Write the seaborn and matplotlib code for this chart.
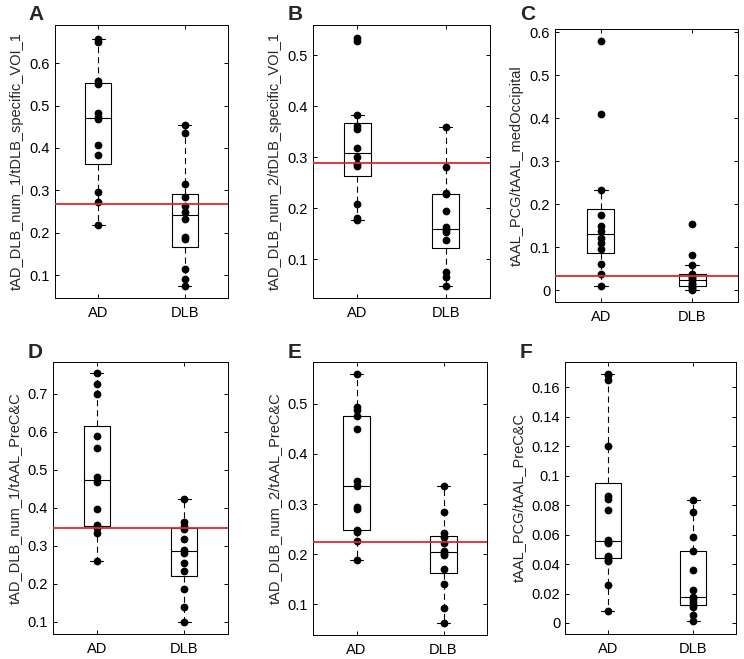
import matplotlib
matplotlib.use("Agg")
import matplotlib.pyplot as plt
from matplotlib.ticker import FuncFormatter, MultipleLocator
import pandas as pd
import seaborn as sns

groups = ["AD", "DLB"]

# values (one dot per subject)
a_ad = [0.219, 0.273, 0.296, 0.384, 0.408, 0.469, 0.472, 0.482, 0.551, 0.558, 0.651, 0.657]
a_dlb = [0.075, 0.091, 0.114, 0.185, 0.191, 0.232, 0.250, 0.262, 0.284, 0.315, 0.435, 0.453]
a_cut = 0.267

b_ad = [0.177, 0.180, 0.208, 0.282, 0.287, 0.300, 0.318, 0.355, 0.362, 0.383, 0.527, 0.533]
b_dlb = [0.048, 0.066, 0.074, 0.137, 0.153, 0.157, 0.163, 0.195, 0.227, 0.230, 0.281, 0.360]
b_cut = 0.288

c_ad = [0.011, 0.039, 0.062, 0.095, 0.110, 0.122, 0.138, 0.150, 0.175, 0.234, 0.410, 0.580]
c_dlb = [0.002, 0.005, 0.008, 0.010, 0.014, 0.018, 0.024, 0.028, 0.032, 0.037, 0.060, 0.083, 0.155]
c_cut = 0.034

d_ad = [0.259, 0.335, 0.348, 0.355, 0.397, 0.468, 0.480, 0.557, 0.588, 0.700, 0.726, 0.754]
d_dlb = [0.099, 0.138, 0.187, 0.233, 0.255, 0.281, 0.290, 0.318, 0.344, 0.351, 0.362, 0.424]
d_cut = 0.348

e_ad = [0.189, 0.227, 0.244, 0.248, 0.290, 0.295, 0.336, 0.345, 0.449, 0.475, 0.488, 0.493, 0.560]
e_dlb = [0.062, 0.092, 0.141, 0.171, 0.198, 0.203, 0.206, 0.222, 0.235, 0.242, 0.284, 0.336]
e_cut = 0.225

f_ad = [0.0084, 0.026, 0.042, 0.043, 0.0445, 0.0455, 0.0545, 0.055, 0.056, 0.077, 0.084, 0.0865,
        0.120, 0.165, 0.1685, 0.169]
f_dlb = [0.0016, 0.0052, 0.0105, 0.012, 0.0145, 0.016, 0.0174, 0.0222, 0.0362, 0.049, 0.0584,
         0.0751, 0.0837]
f_cut = None

letters = ["A", "B", "C", "D", "E", "F"]
ylabels = ["tAD_DLB_num_1/tDLB_specific_VOI_1", "tAD_DLB_num_2/tDLB_specific_VOI_1",
           "tAAL_PCG/tAAL_medOccipital", "tAD_DLB_num_1/tAAL_PreC&C",
           "tAD_DLB_num_2/tAAL_PreC&C", "tAAL_PCG/tAAL_PreC&C"]
ylims = [(0.046, 0.69), (0.024, 0.559), (-0.027, 0.607),
         (0.068, 0.784), (0.039, 0.583), (-0.0075, 0.1772)]
ysteps = [0.1, 0.1, 0.1, 0.1, 0.1, 0.02]

panels = [(a_ad, a_dlb, a_cut), (b_ad, b_dlb, b_cut), (c_ad, c_dlb, c_cut),
          (d_ad, d_dlb, d_cut), (e_ad, e_dlb, e_cut), (f_ad, f_dlb, f_cut)]

# axes boxes in pixels: left, right, top, bottom
W, H = 744, 659
boxes_px = [(55, 228, 25, 298), (313, 490, 25, 298), (555, 738, 29, 302),
            (53, 228, 362, 634), (313, 487, 362, 635), (565, 736, 362, 634)]
letter_px = [(28, 20), (288, 20), (520, 20), (28, 358), (288, 358), (520, 358)]

sns.set_theme(style="ticks")
plt.rcParams["font.family"] = ["Liberation Sans", "DejaVu Sans"]
plt.rcParams["axes.linewidth"] = 0.7
plt.rcParams["axes.edgecolor"] = "black"

fig = plt.figure(figsize=(W / 100, H / 100), dpi=100)

for i, (ad, dlb, cut) in enumerate(panels):
    l, r, t, b = boxes_px[i]
    ax = fig.add_axes([l / W, 1 - b / H, (r - l) / W, (b - t) / H])
    df = pd.DataFrame({"group": ["AD"] * len(ad) + ["DLB"] * len(dlb),
                       "value": ad + dlb})
    sns.boxplot(data=df, x="group", y="value", order=groups, width=0.3, whis=1.5,
                fill=False, color="black", linewidth=0.8, showfliers=False,
                whiskerprops=dict(linestyle=(0, (5.5, 3.6))), ax=ax)
    sns.stripplot(data=df, x="group", y="value", order=groups, jitter=False,
                  color="black", size=5.6, zorder=3, ax=ax)
    if cut is not None:
        ax.axhline(cut, color="#e0262a", linewidth=1.3, zorder=4)
    ax.set_xlim(-0.5, 1.5)
    ax.set_ylim(*ylims[i])
    ax.yaxis.set_major_locator(MultipleLocator(ysteps[i]))
    ax.yaxis.set_major_formatter(FuncFormatter(lambda v, p: "%g" % round(v, 4)))
    ax.set_xlabel("")
    ax.set_ylabel(ylabels[i], fontsize=10.5)
    ax.tick_params(direction="in", right=True, top=True, labelsize=10.5,
                   length=3, width=0.7, colors="black")
    ax.tick_params(axis="x", pad=6)
    for s in ax.spines.values():
        s.set_visible(True)
        s.set_color("black")
    lx, ly = letter_px[i]
    fig.text(lx / W, 1 - ly / H, letters[i], fontsize=15, fontweight="bold",
             ha="left", va="baseline")

fig.savefig("out.png", dpi=100)
